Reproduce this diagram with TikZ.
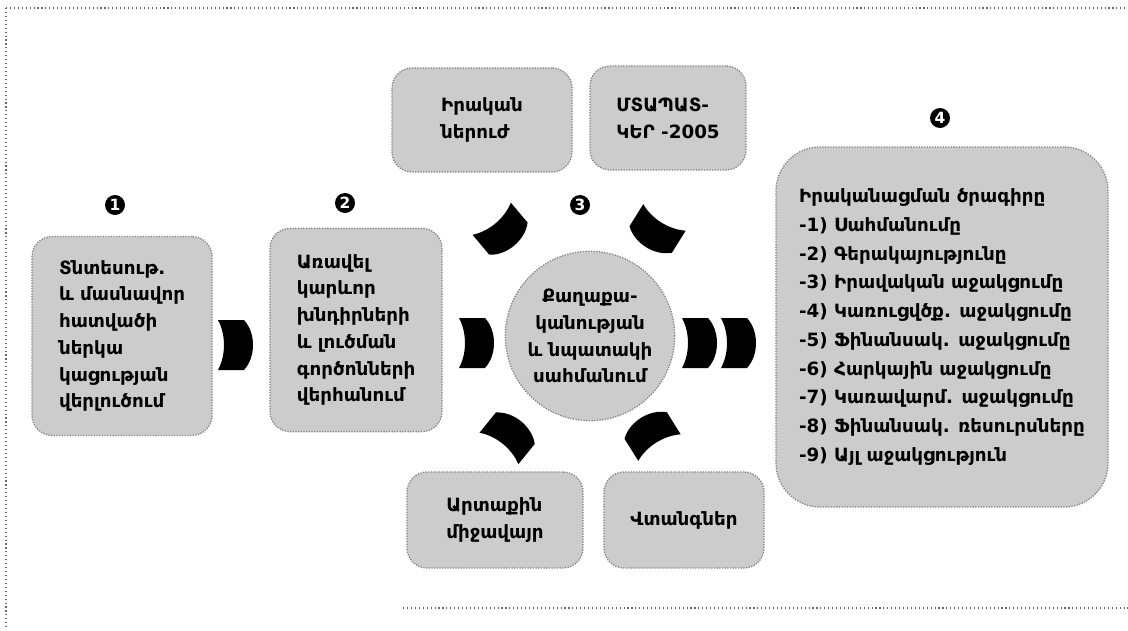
\documentclass[tikz,border=0pt]{standalone}
\usepackage{fontspec}
\setmainfont{DejaVu Sans}
\usetikzlibrary{calc}
\tikzset{
    stip/.style={fill=black!20, draw=black!50, densely dotted, line width=0.9pt, rounded corners=0.5cm},
    txt/.style={font=\bfseries\fontsize{13}{19}\selectfont, align=left},
    num/.style={circle, fill=black, text=white, font=\bfseries\fontsize{11}{11}\selectfont, inner sep=0pt, minimum size=0.5cm},
    chev/.pic={\fill[black] (-16,-25) -- (10,-25) .. controls (22,-12) and (22,12) .. (10,25) -- (-16,25) .. controls (-8,10) and (-8,-10) .. (-16,-25) -- cycle;}
}

\begin{document}
\begin{tikzpicture}[x=0.025cm, y=-0.025cm]
\useasboundingbox (0,0) rectangle (1128,630);

% Frame
\draw[black!60, dotted, line width=0.8pt] (6,8) -- (1128,8);
\draw[black!60, dotted, line width=0.8pt] (6,8) -- (6,630);
\draw[black!60, dotted, line width=0.8pt] (403,608) -- (1128,608);

% Stages
\node[stip, txt, minimum width=4.5cm, minimum height=4.97cm] (econ) at (122,336)
    {Տնտեսութ.\\և մասնավոր\\հատվածի\\ներկա\\կացության\\վերլուծում};
\node[stip, txt, minimum width=4.3cm, minimum height=5.08cm] (issues) at (356,330)
    {Առավել\\կարևոր\\խնդիրների\\և լուծման\\գործոնների\\վերհանում};
\node[stip, txt, circle, align=center, minimum size=4.15cm] (goal) at (590,336)
    {Քաղաքա-\\կանության\\և նպատակի\\սահմանում};
\node[stip, txt, rounded corners=1.1cm, minimum width=8.3cm, minimum height=9.0cm,
    font=\bfseries\fontsize{13}{20.4}\selectfont] (plan) at (942,327)
    {Իրականացման ծրագիրը\\-1) Սահմանումը\\-2) Գերակայությունը\\-3) Իրավական աջակցումը\\-4) Կառուցվծք. աջակցումը\\-5) Ֆինանսակ. աջակցումը\\-6) Հարկային աջակցումը\\-7) Կառավարմ. աջակցումը\\-8) Ֆինանսակ. ռեսուրսները\\-9) Այլ աջակցություն};

% Inputs to the goal
\node[stip, txt, minimum width=4.5cm, minimum height=2.6cm] (potential) at (482,120) {Իրական\\ներուժ};
\node[stip, txt, minimum width=3.9cm, minimum height=2.6cm] (vision) at (668,118) {ՄՏԱՊԱՏ-\\ԿԵՐ -2005};
\node[stip, txt, minimum width=4.4cm, minimum height=2.4cm] (environ) at (495,520) {Արտաքին\\միջավայր};
\node[stip, txt, minimum width=4.0cm, minimum height=2.4cm] (risks) at (684,520) {Վտանգներ};

% Step numbers
\node[num] (n1) at (115,205) {1};
\node[num] (n2) at (345,203) {2};
\node[num] (n3) at (580,205) {3};
\node[num] (n4) at (940,118) {4};

% Chevrons
\pic at (234,345) {chev};
\pic at (475,343) {chev};
\pic at (698,343) {chev};
\pic at (737,343) {chev};
\pic[rotate=-50] at (502,231) {chev};
\pic[rotate=-122] at (656,231) {chev};
\pic[rotate=51] at (509,436) {chev};
\pic[rotate=122] at (651,434) {chev};
\end{tikzpicture}
\end{document}
